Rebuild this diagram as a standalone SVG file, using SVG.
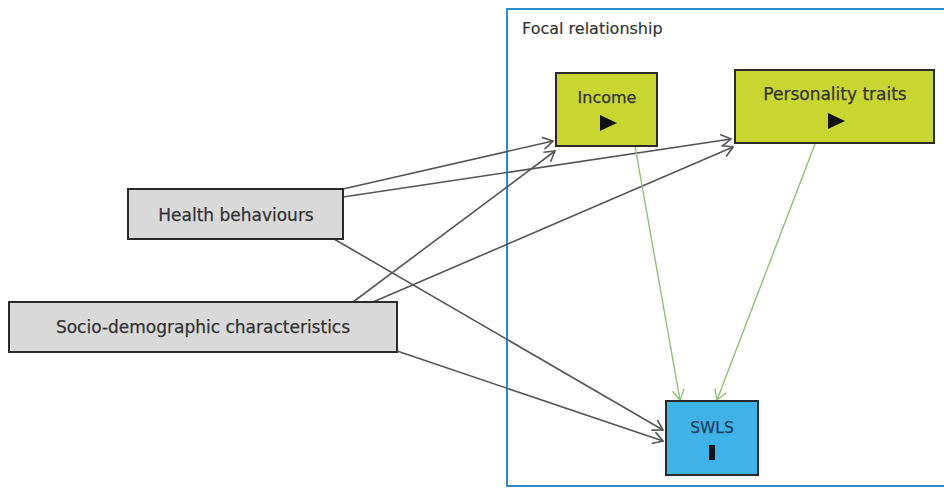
<svg xmlns="http://www.w3.org/2000/svg" width="944" height="489" viewBox="0 0 944 489">
  <style>
    .box { stroke: #2a2a2a; stroke-width: 2; }
    .grey { fill: #d9d9d9; }
    .lime { fill: #c9d631; }
    .blue { fill: #3fb3e8; }
    .lbl { font-family: "DejaVu Sans", "Liberation Sans", sans-serif; font-size: 17px; fill: #333; stroke: #333; stroke-width: 0.25; text-anchor: middle; }
    .edge { fill: none; stroke: #555; stroke-width: 1.6; }
    .edge-g { fill: none; stroke: #8fc079; stroke-width: 1.4; }
  </style>
  <defs>
    <marker id="vee" markerWidth="14" markerHeight="14" refX="12" refY="7" orient="auto" markerUnits="userSpaceOnUse">
      <path d="M2,1 L12,7 L2,13" fill="none" stroke="#555" stroke-width="1.6"/>
    </marker>
    <marker id="vee-g" markerWidth="14" markerHeight="14" refX="12" refY="7" orient="auto" markerUnits="userSpaceOnUse">
      <path d="M2,1 L12,7 L2,13" fill="none" stroke="#8fc079" stroke-width="1.4"/>
    </marker>
  </defs>

  <rect width="944" height="489" fill="#ffffff"/>

  <!-- focal relationship frame -->
  <g id="focal">
    <rect x="507" y="9" width="445" height="477" fill="none" stroke="#2e8ccd" stroke-width="2"/>
    <text x="522" y="34" class="lbl" style="text-anchor:start;font-size:16px;stroke-width:0.15">Focal relationship</text>
  </g>

  <!-- connectors -->
  <g id="connectors">
    <line class="edge" x1="343" y1="189" x2="553" y2="141" marker-end="url(#vee)"/>
    <line class="edge" x1="343" y1="197" x2="731" y2="139" marker-end="url(#vee)"/>
    <line class="edge" x1="353" y1="302" x2="555" y2="151" marker-end="url(#vee)"/>
    <line class="edge" x1="373" y1="302" x2="733" y2="147" marker-end="url(#vee)"/>
    <line class="edge" x1="334" y1="239" x2="663" y2="430" marker-end="url(#vee)"/>
    <line class="edge" x1="397" y1="351" x2="663" y2="441" marker-end="url(#vee)"/>
    <line class="edge-g" x1="635" y1="146" x2="680" y2="400" marker-end="url(#vee-g)"/>
    <line class="edge-g" x1="815" y1="144" x2="717" y2="400" marker-end="url(#vee-g)"/>
  </g>

  <g id="health">
    <rect class="box grey" x="128" y="189" width="215" height="50"/>
    <text class="lbl" x="236" y="221">Health behaviours</text>
  </g>

  <g id="socio">
    <rect class="box grey" x="9" y="302" width="388" height="50"/>
    <text class="lbl" x="203" y="333">Socio-demographic characteristics</text>
  </g>

  <g id="income">
    <rect class="box lime" x="556" y="73" width="101" height="73"/>
    <text class="lbl" x="607" y="103" style="font-size:16px">Income</text>
    <polygon points="600,115 617,123 600,131" fill="#111"/>
  </g>

  <g id="personality">
    <rect class="box lime" x="735" y="70" width="199" height="73"/>
    <text class="lbl" x="835" y="100">Personality traits</text>
    <polygon points="828,113 845,121 828,129" fill="#111"/>
  </g>

  <g id="swls">
    <rect class="box blue" x="666" y="401" width="92" height="74"/>
    <text class="lbl" x="712" y="433" style="fill:#1d3f5e;stroke:#1d3f5e;font-size:15.5px">SWLS</text>
    <rect x="709" y="445" width="6" height="15" fill="#111"/>
  </g>
</svg>
